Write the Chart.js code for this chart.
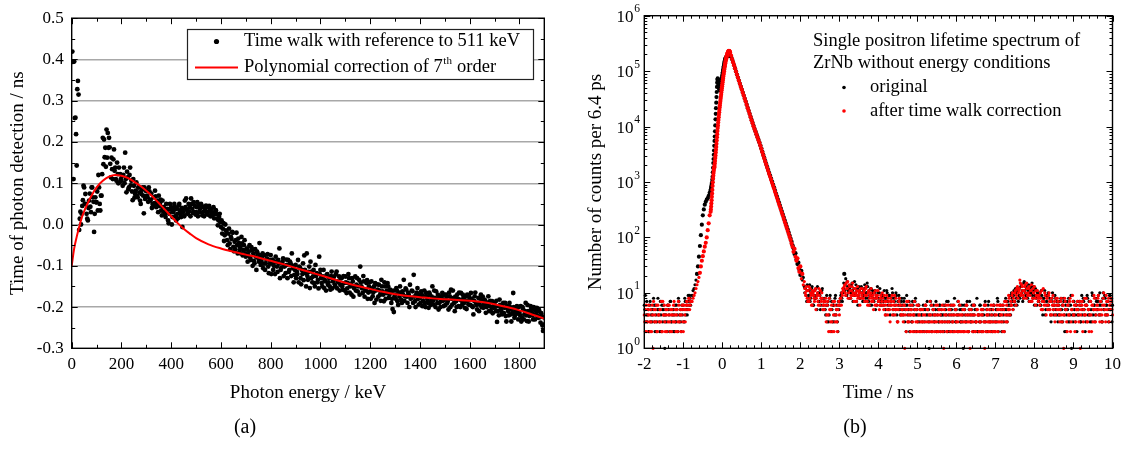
<!DOCTYPE html>
<html>
<head>
<meta charset="utf-8">
<script src="https://cdn.jsdelivr.net/npm/chart.js@4.4.1/dist/chart.umd.min.js"></script>
<style>
  html, body { margin: 0; padding: 0; background: #fff; }
  body { width: 1127px; height: 470px; position: relative; overflow: hidden;
         font-family: "Liberation Serif", "Times New Roman", serif; }
  #wrapA { position: absolute; left: 0; top: 0; width: 565px; height: 470px; }
  #wrapB { position: absolute; left: 570px; top: 0; width: 557px; height: 470px; }
  .tag { position: absolute; top: 415px; width: 60px; font-size: 20px; line-height: 23px; text-align: center; color: #000; }
</style>
</head>
<body>
<div id="wrapA"><canvas id="chartA"></canvas></div>
<div id="wrapB"><canvas id="chartB"></canvas></div>
<div class="tag" style="left:215px">(a)</div>
<div class="tag" style="left:825px">(b)</div>
<script>
// -----------------------------
// Panel (a): time walk vs photon energy
// energy grid: 0, 2.5, 5 ... 1900 keV
// -----------------------------
const walkStart = 0;
const walkStep = 2.5;
const walkTime = [
  0.11,0.419,0.394,0.11,0.395,0.258,0.259,0.219,0.143,0.328,0.348,0.315,-0.013,0.014,0.031,0.0,0.026,0.045,0.059,0.094,0.09,0.05,0.074,0.05,0.026,0.014,0.01,0.04,0.058,0.075,0.043,0.03,0.09,0.09,0.066,0.055,-0.018,0.026,0.066,0.054,
  0.054,0.08,0.034,0.12,0.09,0.05,0.034,0.07,0.07,0.122,0.21,0.146,0.206,0.163,0.186,0.14,0.23,0.162,0.222,0.186,0.21,0.187,0.147,0.114,0.162,0.134,0.11,0.158,0.182,0.13,0.138,0.11,0.106,0.15,0.122,0.1,0.138,0.102,0.122,0.11,
  0.106,0.118,0.094,0.12,0.138,0.1,0.174,0.11,0.078,0.128,0.114,0.085,0.09,0.12,0.138,0.095,0.106,0.08,0.059,0.11,0.094,0.065,0.074,0.082,0.102,0.07,0.066,0.09,0.09,0.078,0.058,0.05,0.074,0.084,0.09,0.07,0.027,0.09,0.062,0.082,
  0.082,0.07,0.066,0.055,0.09,0.08,0.058,0.06,0.075,0.04,0.05,0.045,0.066,0.052,0.082,0.068,0.042,0.05,0.058,0.03,0.07,0.045,0.05,0.06,0.034,0.022,0.058,0.042,0.042,0.03,0.026,0.018,0.05,0.034,0.038,0.01,0.003,0.026,0.05,0.036,
  0.042,0.0,0.018,0.03,0.034,0.05,0.042,0.02,0.01,0.038,0.026,0.015,0.046,0.05,0.034,0.025,0.018,0.04,-0.006,0.03,0.038,0.02,0.058,0.042,0.063,0.035,0.026,0.028,0.05,0.032,0.042,0.02,0.063,0.05,0.038,0.028,0.054,0.03,0.046,0.024,
  0.03,0.042,0.054,0.02,0.046,0.03,0.038,0.04,0.05,0.046,0.022,0.03,0.042,0.02,0.034,0.038,0.046,0.03,0.026,0.024,0.042,0.045,0.034,0.02,0.038,0.03,0.022,0.028,0.042,0.015,0.026,0.035,0.034,0.025,0.014,-0.002,0.01,0.018,0.026,0.006,
  -0.006,0.01,-0.022,-0.01,0.003,-0.04,-0.026,0.0,-0.014,-0.02,-0.038,-0.05,-0.022,-0.01,-0.046,-0.06,-0.03,-0.035,-0.018,-0.02,-0.054,-0.065,-0.042,-0.06,-0.038,-0.02,-0.05,-0.07,-0.034,-0.045,-0.062,-0.055,-0.07,-0.03,-0.046,-0.075,-0.062,-0.05,-0.038,-0.07,
  -0.078,-0.06,-0.058,-0.09,-0.074,-0.065,-0.05,-0.08,-0.086,-0.055,-0.062,-0.1,-0.07,-0.088,-0.094,-0.06,-0.078,-0.11,-0.066,-0.07,-0.082,-0.09,-0.045,-0.075,-0.098,-0.088,-0.078,-0.07,-0.106,-0.095,-0.074,-0.11,-0.094,-0.085,-0.082,-0.072,-0.102,-0.118,-0.086,-0.095,
  -0.074,-0.12,-0.094,-0.085,-0.11,-0.1,-0.09,-0.12,-0.078,-0.09,-0.102,-0.115,-0.086,-0.095,-0.058,-0.13,-0.11,-0.105,-0.094,-0.09,-0.082,-0.125,-0.102,-0.1,-0.118,-0.085,-0.098,-0.13,-0.086,-0.115,-0.11,-0.09,-0.094,-0.125,-0.07,-0.1,-0.106,-0.14,-0.122,-0.11,
  -0.098,-0.13,-0.114,-0.12,-0.086,-0.14,-0.102,-0.105,-0.13,-0.145,-0.11,-0.12,-0.094,-0.135,-0.075,-0.11,-0.118,-0.15,-0.07,-0.125,-0.134,-0.115,-0.102,-0.154,-0.09,-0.13,-0.114,-0.14,-0.126,-0.11,-0.142,-0.15,-0.098,-0.125,-0.118,-0.14,-0.134,-0.155,-0.078,-0.12,
  -0.11,-0.13,-0.142,-0.15,-0.126,-0.11,-0.154,-0.135,-0.138,-0.16,-0.122,-0.12,-0.146,-0.14,-0.13,-0.15,-0.158,-0.125,-0.114,-0.155,-0.138,-0.135,-0.126,-0.145,-0.15,-0.12,-0.114,-0.155,-0.138,-0.14,-0.126,-0.16,-0.146,-0.13,-0.13,-0.15,-0.158,-0.125,-0.142,-0.16,
  -0.126,-0.14,-0.166,-0.155,-0.142,-0.12,-0.13,-0.165,-0.15,-0.145,-0.17,-0.13,-0.138,-0.175,-0.154,-0.15,-0.126,-0.16,-0.146,-0.13,-0.162,-0.15,-0.134,-0.17,-0.102,-0.14,-0.15,-0.155,-0.166,-0.125,-0.138,-0.175,-0.158,-0.16,-0.142,-0.135,-0.18,-0.165,-0.15,-0.14,
  -0.162,-0.18,-0.138,-0.155,-0.174,-0.165,-0.15,-0.19,-0.142,-0.16,-0.182,-0.145,-0.158,-0.175,-0.146,-0.16,-0.17,-0.185,-0.134,-0.15,-0.162,-0.17,-0.186,-0.14,-0.15,-0.18,-0.166,-0.16,-0.142,-0.15,-0.178,-0.17,-0.158,-0.165,-0.19,-0.18,-0.205,-0.16,-0.212,-0.175,
  -0.17,-0.18,-0.154,-0.16,-0.186,-0.195,-0.166,-0.175,-0.15,-0.165,-0.182,-0.19,-0.162,-0.17,-0.134,-0.185,-0.174,-0.155,-0.158,-0.175,-0.19,-0.165,-0.17,-0.2,-0.146,-0.18,-0.178,-0.16,-0.162,-0.19,-0.122,-0.175,-0.186,-0.2,-0.17,-0.165,-0.154,-0.18,-0.194,-0.17,
  -0.178,-0.19,-0.162,-0.17,-0.198,-0.185,-0.174,-0.16,-0.19,-0.2,-0.166,-0.175,-0.182,-0.19,-0.202,-0.165,-0.17,-0.195,-0.186,-0.175,-0.15,-0.185,-0.194,-0.16,-0.178,-0.2,-0.162,-0.18,-0.19,-0.17,-0.206,-0.19,-0.174,-0.2,-0.186,-0.175,-0.166,-0.185,-0.198,-0.17,
  -0.182,-0.195,-0.17,-0.175,-0.19,-0.185,-0.206,-0.165,-0.174,-0.2,-0.158,-0.18,-0.194,-0.16,-0.178,-0.19,-0.21,-0.175,-0.186,-0.2,-0.17,-0.18,-0.198,-0.165,-0.182,-0.2,-0.166,-0.185,-0.194,-0.17,-0.178,-0.19,-0.202,-0.175,-0.186,-0.205,-0.17,-0.185,-0.194,-0.175,
  -0.182,-0.195,-0.166,-0.18,-0.198,-0.2,-0.218,-0.185,-0.174,-0.165,-0.19,-0.195,-0.206,-0.19,-0.178,-0.21,-0.194,-0.18,-0.17,-0.2,-0.186,-0.175,-0.202,-0.195,-0.182,-0.185,-0.214,-0.2,-0.19,-0.19,-0.174,-0.21,-0.198,-0.185,-0.21,-0.2,-0.186,-0.215,-0.202,-0.19,
  -0.194,-0.2,-0.21,-0.185,-0.236,-0.21,-0.198,-0.22,-0.182,-0.195,-0.206,-0.21,-0.218,-0.2,-0.19,-0.215,-0.202,-0.19,-0.222,-0.235,-0.198,-0.205,-0.21,-0.22,-0.19,-0.2,-0.218,-0.235,-0.206,-0.215,-0.166,-0.2,-0.226,-0.22,-0.21,-0.205,-0.198,-0.215,-0.23,-0.2,
  -0.214,-0.22,-0.198,-0.235,-0.226,-0.2,-0.206,-0.23,-0.218,-0.21,-0.19,-0.22,-0.234,-0.195,-0.21,-0.235,-0.222,-0.215,-0.198,-0.205,-0.214,-0.22,-0.23,-0.2,-0.206,-0.23,-0.218,-0.21,-0.202,-0.22,-0.226,-0.205,-0.21,-0.225,-0.238,-0.215,-0.222,-0.245,-0.258,-0.225,
  -0.242
];

// red 7th order polynomial
const fitEnergy = [0, 10, 20, 30, 40, 50, 60, 75, 100, 125, 150, 175, 200, 225, 250, 275, 300, 325, 350, 375, 400, 425, 450, 475, 500, 550, 600, 650, 700, 750, 800, 850, 900, 950, 1000, 1050, 1100, 1150, 1200, 1250, 1300, 1350, 1400, 1450, 1500, 1550, 1600, 1650, 1700, 1750, 1800, 1850, 1900];
const fitTime = [-0.1, -0.058, -0.03, -0.006, 0.016, 0.032, 0.046, 0.065, 0.09, 0.106, 0.116, 0.12, 0.118, 0.113, 0.104, 0.094, 0.082, 0.068, 0.052, 0.036, 0.02, 0.004, -0.01, -0.022, -0.033, -0.048, -0.058, -0.066, -0.073, -0.08, -0.088, -0.096, -0.105, -0.114, -0.123, -0.132, -0.141, -0.149, -0.156, -0.163, -0.169, -0.173, -0.176, -0.179, -0.181, -0.183, -0.185, -0.188, -0.193, -0.2, -0.208, -0.218, -0.228];

// -----------------------------
// Panel (b): lifetime spectra, counts per bin
// -----------------------------
// left background, t = -2.0 ... -0.325 ns
const leftStart = -2.0, leftStep = 0.025;
const origLeft = [6,9,4,3,5,2,7,4,3,5, 6,2,4,3,8,5,2,4,6,3, 5,1,4,3,6,5,2,7,3,4, 5,2,3,6,4,8,3,5,2,4, 6,3,7,5,4,9,6,8,7,
  9,11,12,14,17,22,30,45,70,110,170,250,320,390,440,480,510,560,640];
const corrLeft = [4,2,6,3,5,4,2,3,6,1, 5,4,3,2,6,4,5,3,2,7, 4,3,5,2,6,4,3,5,2,4, 6,3,5,4,2,7,3,5,4,6, 2,5,3,6,7,5,8,6,7,
  7,8,9,10,12,14,16,19,23,30,38,46,56,68,80,100,135,180,250];
// in-between bins of the left background, t = -1.9875 ... -0.8125 ns
const leftStartB = -1.9875;
const origLeftB = [5,3,7,4,2,6,3,5,4,8, 3,6,2,5,4,3,7,2,5,6, 4,3,5,2,6,4,7,3,5,2, 4,6,3,5,2,7,4,3,6,5, 3,8,4,6,5,7,9,6];
const corrLeftB = [3,5,2,4,6,3,5,2,4,7, 3,5,6,2,4,3,5,7,2,4, 6,2,4,5,3,6,2,4,5,3, 7,4,2,5,3,6,4,2,5,3, 6,4,5,7,6,8,5,7];

// prompt peak, t = -0.3 ... 0.19375 ns
const peakStart = -0.3, peakStep = 0.00625;
const origPeak = [700,740,780,830,880,930,990,1100,1250,1500, 1800,2200,2600,3100,3700,4500,5500,6600,8200,10500,
  13500,17000,21500,27000,34000,42000,52000,62000,70000,74000, 72000,68000,63000,58000,53000,49000,46500,45500,46000,48000,
  51000,54000,57000,61000,65000,69000,73000,78000,83000,89000, 95000,101000,108000,115000,122000,129000,136000,143000,150000,157000,
  163000,169000,174000,176000,178000,181000,184000,187000,189000,191000, 193000,194000,195000,196000,196000,196000,195000,194000,193000,191000];
const corrPeak = [290,320,360,410,470,540,620,720,850,990, 1150,1300,1450,1600,1750,1850,1950,2150,2400,2700,
  3000,3400,3800,4300,4900,5600,6400,7300,8300,9400, 10500,11800,13200,14700,16300,18100,20000,22000,24200,26500,
  29000,31700,34500,37500,41000,45000,49000,53500,58000,63000, 68500,74000,80000,86500,93000,100000,107000,115000,123000,131000,
  139000,147000,155000,163000,171000,179000,186000,193000,200000,207000, 213000,219000,224000,228000,231000,232000,231000,229000,226000,222000];

// decay and right background, t = 0.2 ... 10.0 ns
const tailStart = 0.2, tailStep = 0.025;
const origTail = [
  189000,182000,164000,146000,129000,113000,99000,87000,76500,67500,
  59500,52500,46500,41000,36300,32000,28300,24800,21800,19200,
  17000,15000,13200,11700,10300,9100,8200,7300,6500,5800,
  5200,4600,4050,3550,3100,2730,2400,2120,1870,1650,
  1460,1300,1150,1020,900,800,705,620,550,485,
  430,380,336,296,262,230,204,180,158,140,
  123,108,95,84,72,64,50,52,40,33,
  35,26,21,25,17,19,13,
  12,9,14,8,11,7,10,13,6,9,8,12,5,10,7,9,6,11,8,5,
  7,4,9,6,3,8,5,7,3,6,4,9,5,3,7,6,8,10,7,12,
  22,14,9,16,11,8,13,10,15,7,12,9,14,11,6,13,8,10,12,7,
  11,14,8,10,13,7,9,12,6,11,8,10,5,9,13,7,10,6,8,9,
  7,11,5,8,10,6,9,4,7,12,5,8,6,10,4,7,9,5,6,8,
  5,7,3,6,9,4,5,2,6,3,7,4,5,8,2,4,6,3,5,4,
  3,6,2,5,4,7,3,1,4,6,2,5,3,4,7,2,5,3,6,4,
  4,2,6,3,5,7,2,4,3,6,5,2,4,8,3,5,2,4,6,3,
  5,3,1,6,4,3,7,2,5,4,3,6,2,4,5,3,8,2,4,6,
  3,5,2,4,6,3,5,2,7,4,3,5,2,6,4,3,5,8,2,4,
  6,3,5,4,2,7,5,3,6,4,9,6,8,5,11,7,10,6,12,9,
  8,13,10,7,15,11,9,12,8,14,10,7,13,9,11,6,12,8,10,7,
  9,6,11,5,8,7,4,9,6,10,5,7,3,8,6,4,9,5,7,3,
  6,4,8,5,3,7,2,6,4,5,8,3,6,1,4,7,5,3,6,4,
  5,7,3,6,4,8,5,2,6,9,4,7,3,5,10,4,6,3,8,5,
  7,4,10,6,3,8,5,9,4,6,7,3,9,5,8,6
];
const corrTail = [
  215000,190000,165000,145000,128000,112000,98000,86000,76000,67000,
  59000,52000,46000,40500,36000,31500,28000,24500,21500,19000,
  16800,14800,13000,11500,10100,9000,8100,7200,6400,5700,
  5100,4500,3950,3450,3020,2650,2330,2050,1800,1590,
  1400,1240,1100,970,860,760,670,590,520,460,
  405,360,318,280,248,218,192,170,150,132,
  116,102,90,78,68,55,62,45,38,42,
  28,24,30,18,22,14,16,
  10,13,8,11,7,12,9,6,10,8,11,5,9,7,12,6,8,10,5,7,
  6,8,4,7,2,5,3,6,2,4,7,3,5,2,6,4,8,6,9,11,
  13,10,15,12,8,14,11,9,13,10,7,12,9,11,8,10,6,12,9,8,
  10,7,12,9,6,11,8,10,7,9,5,8,11,6,9,7,5,8,6,10,
  6,9,4,7,5,8,6,3,7,9,5,6,4,8,5,3,7,6,4,5,
  4,6,1,5,7,3,4,6,2,5,3,4,7,2,5,3,6,4,2,5,
  3,4,2,6,3,5,2,4,7,3,2,5,4,3,6,2,4,5,3,2,
  5,3,1,4,6,2,3,5,4,2,6,3,2,4,5,3,2,7,4,2,
  3,4,2,5,3,6,2,4,3,1,5,4,3,6,2,3,5,4,2,3,
  4,2,5,3,1,6,4,3,2,5,3,4,2,6,3,2,4,5,3,6,
  4,5,3,6,2,4,7,3,5,8,4,6,9,5,7,10,6,12,8,11,
  17,9,14,11,8,13,10,15,9,12,7,11,14,8,10,13,6,9,11,7,
  8,10,5,7,12,6,9,4,8,6,10,5,7,4,9,6,3,8,5,7,
  5,3,7,4,6,1,8,5,3,6,4,7,2,5,9,4,6,3,5,7,
  4,6,1,5,7,3,4,6,8,3,5,2,7,4,6,3,9,5,4,6,
  8,5,3,7,4,6,10,5,3,7,4,8,6,5,7,4
];
// in-between bins of the right background, t = 2.1125 ... 9.9875 ns
const noiseStartB = 2.1125;
const origNoiseB = [
  10,13,7,11,9,14,8,12,10,6,11,8,9,13,7,10,5,8,12,6,
  8,5,6,3,7,4,9,2,5,6,3,8,4,6,2,5,7,9,8,10,
  15,11,18,9,13,10,12,8,14,11,9,16,10,7,12,9,11,8,13,10,
  9,12,7,10,15,8,11,6,12,9,10,7,11,8,6,10,8,12,7,6,
  9,6,8,4,11,7,5,9,6,8,10,4,7,5,9,3,6,8,4,7,
  6,4,8,5,2,6,3,7,4,5,3,6,2,7,4,5,3,6,2,5,
  4,2,5,3,6,2,4,5,3,7,2,4,6,3,5,2,4,3,6,2,
  5,3,4,2,6,4,3,7,2,5,4,3,6,2,5,3,4,7,2,5,
  3,6,4,2,5,3,6,4,2,7,3,5,4,2,6,3,5,2,4,3,
  6,2,4,5,3,7,2,4,6,3,5,2,4,3,6,2,5,3,7,4,
  4,5,2,6,3,5,8,4,7,5,6,4,10,7,9,6,12,8,11,7,
  12,9,14,11,8,16,10,13,9,11,7,12,10,15,8,13,9,11,6,10,
  7,10,6,9,4,8,11,5,7,9,6,8,4,7,10,5,6,8,4,6,
  4,7,5,3,6,8,4,5,2,7,3,6,4,9,5,3,7,4,6,2,
  7,4,6,3,9,5,7,4,3,6,8,5,4,7,3,9,5,6,4,7,
  5,9,6,4,7,3,10,5,8,6,4,7,5,9,6,3
];
const corrNoiseB = [
  12,9,11,7,13,8,10,6,11,9,7,12,8,10,6,9,11,7,8,6,
  5,7,3,6,4,8,2,5,3,7,2,6,4,3,5,7,6,8,10,12,
  11,14,9,12,16,10,13,8,11,15,9,12,10,7,13,9,11,8,10,12,
  8,11,9,13,7,10,6,9,12,8,7,10,6,9,8,11,7,6,9,7,
  8,5,7,6,9,4,7,5,8,6,4,7,9,5,6,3,5,8,6,4,
  5,3,6,4,2,5,7,3,5,4,6,2,4,5,3,6,2,4,5,3,
  2,5,3,4,6,2,5,3,2,4,6,3,5,2,4,3,6,2,5,4,
  3,6,2,5,3,4,2,6,3,5,2,4,3,6,2,5,4,3,2,6,
  4,2,5,3,2,4,6,3,2,5,4,3,2,6,4,2,3,5,4,2,
  3,5,4,2,6,3,2,5,4,3,2,6,3,5,2,4,3,6,2,5,
  3,6,4,2,5,7,3,6,4,9,5,7,6,10,8,7,11,9,13,10,
  12,15,10,13,9,11,14,8,12,10,13,9,11,7,12,10,8,11,9,8,
  9,6,8,11,5,7,10,6,8,5,9,7,4,8,6,5,7,4,6,8,
  6,4,5,8,3,6,4,7,5,2,6,4,8,3,5,7,4,2,6,5,
  5,3,7,4,6,2,5,8,4,6,3,5,4,7,2,6,5,8,3,5,
  6,9,4,7,5,3,8,6,4,9,5,7,3,6,8,5
];

// -----------------------------
// shared look
// -----------------------------
const serif = "'Liberation Serif', 'Times New Roman', serif";
const RED = "rgb(255,0,0)";
Chart.defaults.font.family = serif;
Chart.defaults.color = "#000";

function binPoints(start, step, values) {
  return values.map((v, i) => ({ x: start + i * step, y: v }));
}

// inward tick marks on all four sides + frame
const frameTicks = {
  id: "frameTicks",
  afterDraw(chart, args, o) {
    const { ctx, chartArea: a } = chart;
    const xs = chart.scales.x, ys = chart.scales.y;
    ctx.save();
    ctx.strokeStyle = "#000";
    ctx.lineWidth = 1;
    ctx.beginPath();
    o.xMarks.forEach(([v, len]) => {
      const px = Math.round(xs.getPixelForValue(v)) + 0.5;
      ctx.moveTo(px, a.bottom); ctx.lineTo(px, a.bottom - len);
      ctx.moveTo(px, a.top); ctx.lineTo(px, a.top + len);
    });
    o.yMarks.forEach(([v, len]) => {
      const py = Math.round(ys.getPixelForValue(v)) + 0.5;
      ctx.moveTo(a.left, py); ctx.lineTo(a.left + len, py);
      ctx.moveTo(a.right, py); ctx.lineTo(a.right - len, py);
    });
    ctx.stroke();
    ctx.lineWidth = 1.4;
    ctx.strokeRect(a.left, a.top, a.right - a.left, a.bottom - a.top);
    ctx.restore();
  }
};

// -----------------------------
// Panel (a)
// -----------------------------
const walkPoints = binPoints(walkStart, walkStep, walkTime);
const fitPoints = fitEnergy.map((e, i) => ({ x: e, y: fitTime[i] }));

const aXMarks = [];
for (let k = 0; k <= 19; k++) aXMarks.push([k * 100, k % 2 === 0 ? 6 : 3.5]);
const aYMarks = [];
for (let k = -6; k <= 10; k++) aYMarks.push([k * 0.05, k % 2 === 0 ? 6 : 3.5]);

const walkLegend = {
  id: "walkLegend",
  afterDraw(chart) {
    const ctx = chart.ctx;
    ctx.save();
    ctx.fillStyle = "#fff";
    ctx.fillRect(187, 29, 346, 50);
    ctx.strokeStyle = "#222";
    ctx.lineWidth = 1.2;
    ctx.strokeRect(187.5, 29.5, 346, 50);
    ctx.fillStyle = "#000";
    ctx.beginPath();
    ctx.arc(216.5, 41.5, 2.6, 0, Math.PI * 2);
    ctx.fill();
    ctx.strokeStyle = RED;
    ctx.lineWidth = 2;
    ctx.beginPath();
    ctx.moveTo(195, 67.5); ctx.lineTo(238, 67.5);
    ctx.stroke();
    ctx.fillStyle = "#000";
    ctx.textAlign = "left";
    ctx.textBaseline = "middle";
    ctx.font = "18.5px " + serif;
    ctx.fillText("Time walk with reference to 511 keV", 244, 41.5);
    const s = "Polynomial correction of 7";
    ctx.fillText(s, 244, 67.5);
    const w = ctx.measureText(s).width;
    ctx.font = "11px " + serif;
    ctx.fillText("th", 244 + w + 0.5, 61);
    const w2 = ctx.measureText("th").width;
    ctx.font = "18.5px " + serif;
    ctx.fillText(" order", 244 + w + w2 + 1, 67.5);
    ctx.restore();
  }
};

new Chart(document.getElementById("chartA"), {
  type: "scatter",
  data: {
    datasets: [
      {
        label: "Polynomial correction of 7th order",
        data: fitPoints,
        showLine: true,
        borderColor: RED,
        borderWidth: 2,
        pointRadius: 0,
        cubicInterpolationMode: "monotone",
        order: 0
      },
      {
        label: "Time walk with reference to 511 keV",
        data: walkPoints,
        pointRadius: 2.4,
        pointBackgroundColor: "#000",
        pointBorderWidth: 0,
        order: 1
      }
    ]
  },
  options: {
    responsive: true,
    maintainAspectRatio: false,
    animation: false,
    events: [],
    layout: { padding: { left: 0, right: 20.7, top: 15.7, bottom: 0 } },
    scales: {
      x: {
        type: "linear", min: 0, max: 1900,
        ticks: { stepSize: 200, includeBounds: false, padding: 6, font: { size: 17 }, maxRotation: 0,
                 callback: (v) => String(v) },
        grid: { display: false, drawTicks: false },
        border: { display: false },
        title: { display: true, text: "Photon energy / keV", font: { size: 19 }, padding: { top: 0, bottom: 65.6 } },
        afterFit(s) { s.height = 121.7; }
      },
      y: {
        type: "linear", min: -0.3, max: 0.5,
        ticks: {
          stepSize: 0.1, padding: 8, font: { size: 17 },
          callback: (v) => (Math.abs(v) < 1e-9 ? "0.0" : v.toFixed(1))
        },
        grid: {
          drawTicks: false,
          lineWidth: 1.5,
          color: (c) => (c.tick && c.tick.value > -0.29 && c.tick.value < 0.49 ? "#a8a8a8" : "rgba(0,0,0,0)")
        },
        border: { display: false },
        title: { display: true, text: "Time of photon detection / ns", font: { size: 19 }, padding: { top: 6.6, bottom: 0 } },
        afterFit(s) { s.width = 71.7; }
      }
    },
    plugins: {
      legend: { display: false },
      tooltip: { enabled: false },
      frameTicks: { xMarks: aXMarks, yMarks: aYMarks }
    }
  },
  plugins: [frameTicks, walkLegend]
});

// -----------------------------
// Panel (b)
// -----------------------------
const origPoints = [
  ...binPoints(leftStart, leftStep, origLeft),
  ...binPoints(leftStartB, leftStep, origLeftB),
  ...binPoints(peakStart, peakStep, origPeak),
  ...binPoints(tailStart, tailStep, origTail),
  ...binPoints(noiseStartB, tailStep, origNoiseB)
];
const corrPoints = [
  ...binPoints(leftStart, leftStep, corrLeft),
  ...binPoints(leftStartB, leftStep, corrLeftB),
  ...binPoints(peakStart, peakStep, corrPeak),
  ...binPoints(tailStart, tailStep, corrTail),
  ...binPoints(noiseStartB, tailStep, corrNoiseB)
];

const bXMarks = [];
for (let k = -10; k <= 50; k++) bXMarks.push([k * 0.2, k % 5 === 0 ? 6 : 3]);
const bYMarks = [];
for (let n = 0; n < 6; n++) {
  for (let m = 1; m <= 9; m++) bYMarks.push([m * Math.pow(10, n), m === 1 ? 6 : 3]);
}
bYMarks.push([1e6, 6]);

const spectrumText = {
  id: "spectrumText",
  afterDraw(chart) {
    const ctx = chart.ctx;
    const ys = chart.scales.y;
    ctx.save();
    ctx.fillStyle = "#000";
    // log tick labels 10^n
    for (let n = 0; n <= 6; n++) {
      const py = ys.getPixelForValue(Math.pow(10, n));
      ctx.textBaseline = "middle";
      ctx.textAlign = "right";
      ctx.font = "17px " + serif;
      ctx.fillText("10", 63.5, py + 1.5);
      ctx.textAlign = "left";
      ctx.font = "11.5px " + serif;
      ctx.fillText(String(n), 64.3, py - 6.5);
    }
    // annotation and legend
    ctx.textAlign = "left";
    ctx.textBaseline = "middle";
    ctx.font = "18.5px " + serif;
    ctx.fillText("Single positron lifetime spectrum of", 243, 41);
    ctx.fillText("ZrNb without energy conditions", 243, 63.5);
    ctx.fillText("original", 300, 87.5);
    ctx.fillText("after time walk correction", 300, 111);
    ctx.beginPath();
    ctx.arc(274, 87.5, 1.8, 0, Math.PI * 2);
    ctx.fill();
    ctx.fillStyle = RED;
    ctx.beginPath();
    ctx.arc(274, 111, 1.8, 0, Math.PI * 2);
    ctx.fill();
    ctx.restore();
  }
};

const dotRadius = (c) => (c.raw && c.raw.y >= 20 ? 2.1 : 1.6);

new Chart(document.getElementById("chartB"), {
  type: "scatter",
  data: {
    datasets: [
      {
        label: "original",
        data: origPoints,
        pointRadius: dotRadius,
        pointBackgroundColor: "#000",
        pointBorderWidth: 0,
        clip: false,
        order: 1
      },
      {
        label: "after time walk correction",
        data: corrPoints,
        pointRadius: dotRadius,
        pointBackgroundColor: RED,
        pointBorderWidth: 0,
        clip: false,
        order: 0
      }
    ]
  },
  options: {
    responsive: true,
    maintainAspectRatio: false,
    animation: false,
    events: [],
    layout: { padding: { left: 0, right: 10.3, top: 15.7, bottom: 0 } },
    scales: {
      x: {
        type: "linear", min: -2, max: 10,
        ticks: { stepSize: 1, includeBounds: false, padding: 6, font: { size: 17 }, maxRotation: 0,
                 callback: (v) => String(v) },
        grid: { display: false, drawTicks: false },
        border: { display: false },
        title: { display: true, text: "Time / ns", font: { size: 19 }, padding: { top: 0, bottom: 65.6 } },
        afterFit(s) { s.height = 121.7; }
      },
      y: {
        type: "logarithmic", min: 1, max: 1e6,
        ticks: { display: false },
        grid: { display: false, drawTicks: false },
        border: { display: false },
        title: { display: true, text: "Number of counts per 6.4 ps", font: { size: 19 }, padding: { top: 14.6, bottom: 0 } },
        afterFit(s) { s.width = 74.3; }
      }
    },
    plugins: {
      legend: { display: false },
      tooltip: { enabled: false },
      frameTicks: { xMarks: bXMarks, yMarks: bYMarks }
    }
  },
  plugins: [frameTicks, spectrumText]
});
</script>
</body>
</html>
